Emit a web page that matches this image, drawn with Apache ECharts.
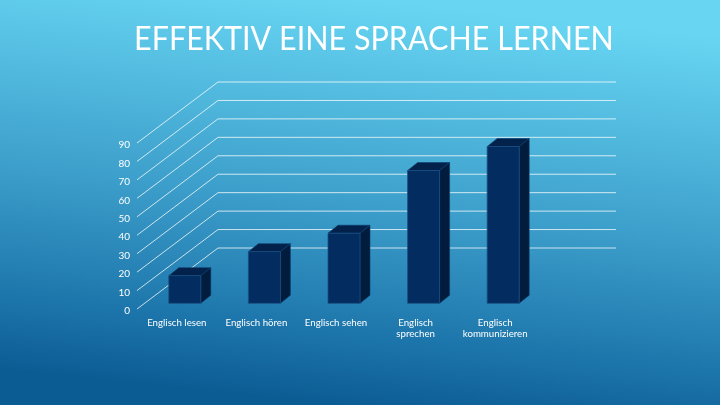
<!DOCTYPE html>
<html><head><meta charset="utf-8">
<style>html,body{margin:0;padding:0;background:#2a8fc0}#c{width:720px;height:405px}</style>
<script src="https://cdn.jsdelivr.net/npm/echarts@6/dist/echarts.min.js"></script>
</head><body><div id="c"></div>
<script>
const categories = ['Englisch lesen','Englisch hören','Englisch sehen','Englisch\nsprechen','Englisch\nkommunizieren'];
const values = [15, 28, 38, 72, 85];
const gridTicks = [0,10,20,30,40,50,60,70,80,90];
const titleText = 'EFFEKTIV EINE SPRACHE LERNEN';

const wallDx = 81, wallDy = 61, barShiftX = 8, barShiftY = 5.7, barW = 32, barDx = 10, barDy = 8;
const font = 'Lato, "Open Sans", sans-serif';

const chart = echarts.init(document.getElementById('c'), null, {renderer:'canvas', width:720, height:405});
chart.setOption({
  animation:false,
  backgroundColor:{type:'linear',x:0.53,y:0,x2:0.47,y2:1,colorStops:[
    {offset:0,color:'#68d6f3'},{offset:0.5,color:'#3d9fcb'},{offset:0.85,color:'#1a72a8'},{offset:1,color:'#0c5c94'}]},
  graphic:[{type:'text',x:134,y:23,scaleX:0.925,scaleY:1,silent:true,
    style:{text:titleText,fill:'#fff',fontFamily:font,fontSize:33,fontWeight:400}}],
  grid:{left:137,top:143,width:398,height:166,containLabel:false},
  xAxis:{type:'category',data:categories,axisLine:{show:false},axisTick:{show:false},splitLine:{show:false},
    axisLabel:{color:'#fff',fontFamily:font,fontSize:9.7,margin:8,lineHeight:11,interval:0}},
  yAxis:{type:'value',min:0,max:90,interval:10,axisLine:{show:false},axisTick:{show:false},splitLine:{show:false},
    axisLabel:{color:'#fff',fontFamily:font,fontSize:10,margin:7,verticalAlign:'top',lineHeight:4}},
  series:[
    {type:'custom',coordinateSystem:'cartesian2d',silent:true,z:1,
     encode:{x:0,y:1},
     data:gridTicks.map(v=>[0,v]),
     renderItem(params,api){
       const p=api.coord([0,api.value(1)]);
       const half=api.size([1,0])[0]/2;
       const x0=Math.round(p[0]-half), y=p[1];
       return {type:'polyline',shape:{points:[[x0,y],[x0+wallDx,y-wallDy],[x0+wallDx+398,y-wallDy]]},
         style:{stroke:'rgba(255,255,255,0.75)',lineWidth:1,fill:null}};
     }},
    {type:'custom',coordinateSystem:'cartesian2d',silent:true,z:2,
     encode:{x:0,y:1},
     data:values.map((v,i)=>[i,v]),
     renderItem(params,api){
       const t=api.coord([api.value(0),api.value(1)]);
       const b=api.coord([api.value(0),0]);
       const l=t[0]+barShiftX-barW/2, r=l+barW, top=t[1]-barShiftY, bot=b[1]-barShiftY;
       const edge={stroke:'#1b4f82',lineWidth:0.8};
       return {type:'group',children:[
         {type:'polygon',shape:{points:[[l,top],[l+barDx,top-barDy],[r+barDx,top-barDy],[r,top]]},style:{fill:'#02214b',stroke:'#0d3f6f',lineWidth:0.6}},
         {type:'polygon',shape:{points:[[r,top],[r+barDx,top-barDy],[r+barDx,bot-barDy],[r,bot]]},style:{fill:'#011c3d',stroke:'#0d3f6f',lineWidth:0.6}},
         {type:'rect',shape:{x:l,y:top,width:barW,height:bot-top},style:{fill:'#032c60',...edge}}
       ]};
     }}
  ]
});
</script></body></html>
